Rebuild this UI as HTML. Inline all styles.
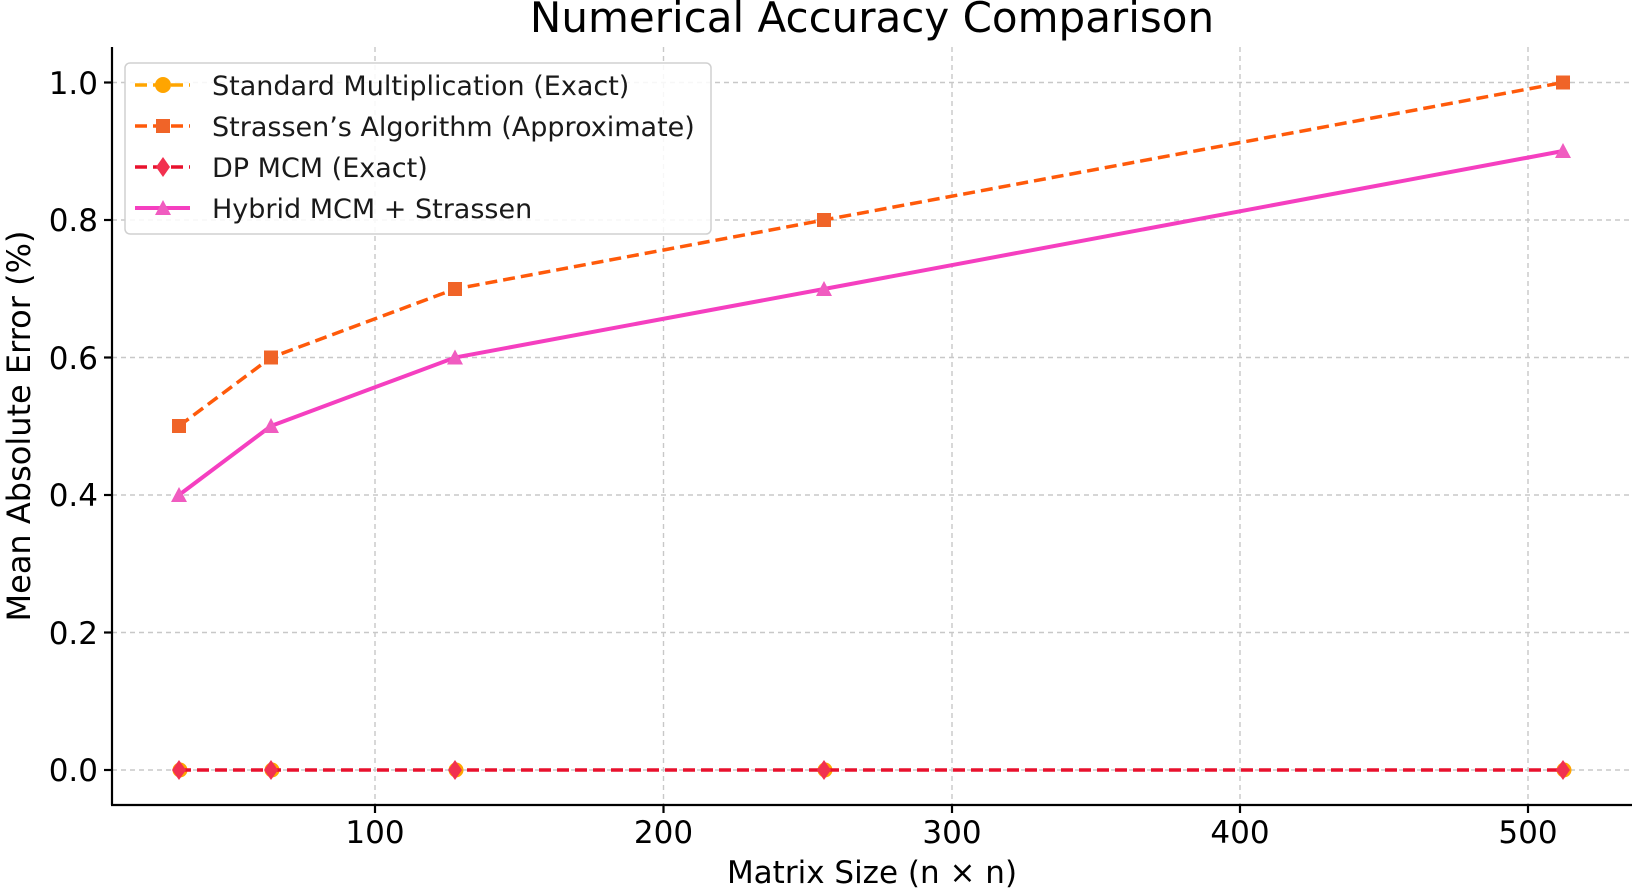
<!DOCTYPE html>
<html><head><meta charset="utf-8"><style>
html,body{margin:0;padding:0;background:#fff}
svg{display:block;font-family:"DejaVu Sans","Liberation Sans",sans-serif}
</style></head><body>
<svg width="1638" height="890" viewBox="0 0 1638 890" xmlns="http://www.w3.org/2000/svg">
<rect width="1638" height="890" fill="#fff"/>
<g stroke="#c8c8c8" stroke-width="1.4" stroke-dasharray="5,4" fill="none">
<line x1="375" y1="47" x2="375" y2="805"/>
<line x1="663.5" y1="47" x2="663.5" y2="805"/>
<line x1="952" y1="47" x2="952" y2="805"/>
<line x1="1240" y1="47" x2="1240" y2="805"/>
<line x1="1528" y1="47" x2="1528" y2="805"/>
<line x1="112" y1="82.5" x2="1632" y2="82.5"/>
<line x1="112" y1="220" x2="1632" y2="220"/>
<line x1="112" y1="357.5" x2="1632" y2="357.5"/>
<line x1="112" y1="495" x2="1632" y2="495"/>
<line x1="112" y1="632.5" x2="1632" y2="632.5"/>
<line x1="112" y1="770" x2="1632" y2="770"/>
</g>
<g stroke="#000" stroke-width="2.2" fill="none">
<line x1="112" y1="47" x2="112" y2="805"/>
<line x1="111" y1="805" x2="1632" y2="805"/>
<line x1="104" y1="82.5" x2="112" y2="82.5"/>
<line x1="104" y1="220" x2="112" y2="220"/>
<line x1="104" y1="357.5" x2="112" y2="357.5"/>
<line x1="104" y1="495" x2="112" y2="495"/>
<line x1="104" y1="632.5" x2="112" y2="632.5"/>
<line x1="104" y1="770" x2="112" y2="770"/>
<line x1="375" y1="805" x2="375" y2="813"/>
<line x1="663.5" y1="805" x2="663.5" y2="813"/>
<line x1="952" y1="805" x2="952" y2="813"/>
<line x1="1240" y1="805" x2="1240" y2="813"/>
<line x1="1528" y1="805" x2="1528" y2="813"/>
</g>
<g font-size="31" fill="#000" text-anchor="end">
<text x="98" y="94">1.0</text>
<text x="98" y="231">0.8</text>
<text x="98" y="369">0.6</text>
<text x="98" y="506">0.4</text>
<text x="98" y="644">0.2</text>
<text x="98" y="781">0.0</text>
</g>
<g font-size="31" fill="#000" text-anchor="middle">
<text x="375" y="843">100</text>
<text x="663.5" y="843">200</text>
<text x="952" y="843">300</text>
<text x="1240" y="843">400</text>
<text x="1528" y="843">500</text>
<text x="872" y="883">Matrix Size (n × n)</text>
<text x="872" y="32" font-size="42">Numerical Accuracy Comparison</text>
<text transform="translate(30,426) rotate(-90)" font-size="32">Mean Absolute Error (%)</text>
</g>
<polyline points="179,426 271,357.5 455,289 824,220 1563,82.5" fill="none" stroke="#ff5a0a" stroke-width="3.5" stroke-dasharray="12,6"/>
<g fill="#f06428">
<rect x="172" y="419" width="14" height="14"/><rect x="264" y="350.5" width="14" height="14"/><rect x="448" y="282" width="14" height="14"/><rect x="817" y="213" width="14" height="14"/><rect x="1556" y="75.5" width="14" height="14"/>
</g>
<polyline points="179,495 271,426 455,357.5 824,289 1563,151" fill="none" stroke="#f53fc0" stroke-width="4"/>
<g fill="#f05cc0">
<polygon points="179,487 187,502 171,502"/><polygon points="271,418 279,433 263,433"/><polygon points="455,349.5 463,364.5 447,364.5"/><polygon points="824,281 832,296 816,296"/><polygon points="1563,143 1571,158 1555,158"/>
</g>
<g fill="#ffa500"><circle cx="180" cy="770" r="7.5"/><circle cx="272" cy="770" r="7.5"/><circle cx="456" cy="770" r="7.5"/><circle cx="825" cy="770" r="7.5"/><circle cx="1564" cy="770" r="7.5"/></g>
<line x1="179" y1="770" x2="1563" y2="770" stroke="#e8112d" stroke-width="3.5" stroke-dasharray="12,6"/>
<g fill="#f2304f">
<polygon points="179,760 186,770 179,780 172,770"/><polygon points="271,760 278,770 271,780 264,770"/><polygon points="455,760 462,770 455,780 448,770"/><polygon points="824,760 831,770 824,780 817,770"/><polygon points="1563,760 1570,770 1563,780 1556,770"/>
</g>
<rect x="125" y="63" width="586" height="171" rx="5" fill="#fff" fill-opacity="0.85" stroke="#d0d0d0" stroke-width="1.5"/>
<line x1="135" y1="85" x2="190" y2="85" stroke="#ffa500" stroke-width="3.5" stroke-dasharray="12,6"/>
<circle cx="163" cy="85" r="8" fill="#ffa500"/>
<line x1="135" y1="126" x2="190" y2="126" stroke="#ff5a0a" stroke-width="3.5" stroke-dasharray="12,6"/>
<rect x="156" y="119" width="14" height="14" fill="#f06428"/>
<line x1="135" y1="167" x2="190" y2="167" stroke="#e8112d" stroke-width="3.5" stroke-dasharray="12,6"/>
<polygon points="163,157 170,167 163,177 156,167" fill="#f2304f"/>
<line x1="135" y1="208" x2="190" y2="208" stroke="#f53fc0" stroke-width="4"/>
<polygon points="163,200 171,215 155,215" fill="#f05cc0"/>
<g font-size="27" fill="#1a1a1a">
<text x="212" y="95">Standard Multiplication (Exact)</text>
<text x="212" y="136">Strassen’s Algorithm (Approximate)</text>
<text x="212" y="177">DP MCM (Exact)</text>
<text x="212" y="218">Hybrid MCM + Strassen</text>
</g>
</svg>
</body></html>
